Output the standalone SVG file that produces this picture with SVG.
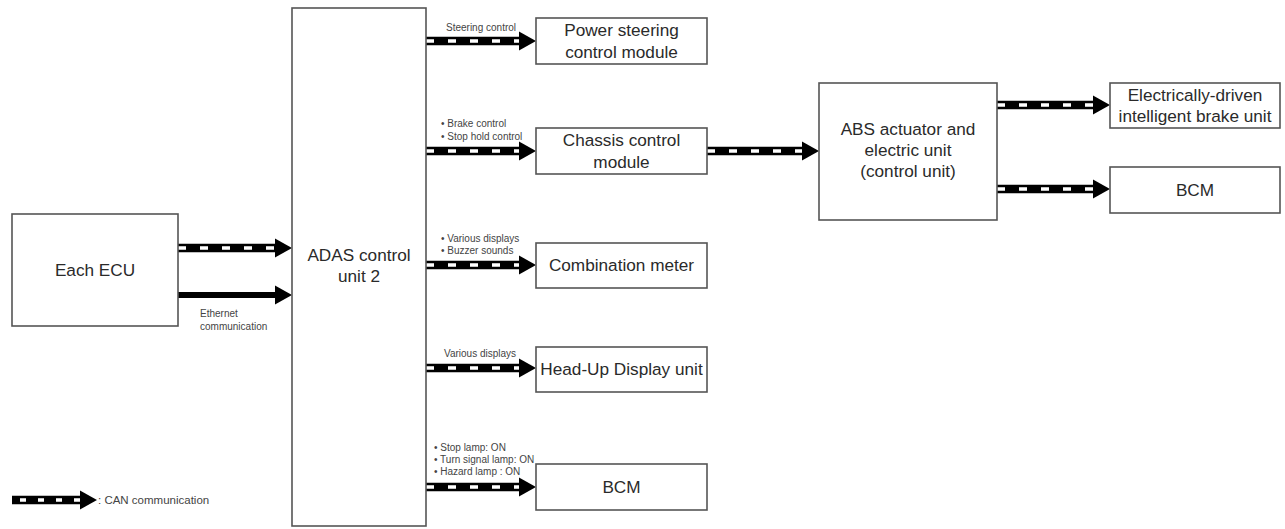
<svg xmlns="http://www.w3.org/2000/svg" width="1285" height="529" viewBox="0 0 1285 529">
<defs>
<style>
.box{fill:#fff;stroke:#555;stroke-width:1.6}
.t{font-family:"Liberation Sans",Arial,sans-serif;font-size:17.2px;fill:#2a2a2a;text-anchor:middle}
.s{font-family:"Liberation Sans",Arial,sans-serif;font-size:10px;fill:#444}
.l{font-family:"Liberation Sans",Arial,sans-serif;font-size:11.5px;fill:#444}
.bar{stroke:#000;stroke-width:8.5;fill:none}
.dash{stroke:#fff;stroke-width:3.5;stroke-dasharray:8 14;fill:none}
.eth{stroke:#000;stroke-width:6;fill:none}
.head{fill:#000}
</style>
</defs>
<rect width="1285" height="529" fill="#fff"/>

<g id="connectors">
  <g class="can"><line class="bar" x1="178" y1="248" x2="276" y2="248"/><line class="dash" x1="178" y1="248" x2="276" y2="248"/><polygon class="head" points="275,238.5 292,248 275,257.5"/></g>
  <g class="ethernet"><line class="eth" x1="178" y1="295" x2="276" y2="295"/><polygon class="head" points="275,285.5 292,295 275,304.5"/></g>
  <g class="can"><line class="bar" x1="426" y1="41" x2="520" y2="41"/><line class="dash" x1="426" y1="41" x2="520" y2="41"/><polygon class="head" points="519,31.5 536,41 519,50.5"/></g>
  <g class="can"><line class="bar" x1="426" y1="151" x2="520" y2="151"/><line class="dash" x1="426" y1="151" x2="520" y2="151"/><polygon class="head" points="519,141.5 536,151 519,160.5"/></g>
  <g class="can"><line class="bar" x1="426" y1="265" x2="520" y2="265"/><line class="dash" x1="426" y1="265" x2="520" y2="265"/><polygon class="head" points="519,255.5 536,265 519,274.5"/></g>
  <g class="can"><line class="bar" x1="426" y1="368" x2="520" y2="368"/><line class="dash" x1="426" y1="368" x2="520" y2="368"/><polygon class="head" points="519,358.5 536,368 519,377.5"/></g>
  <g class="can"><line class="bar" x1="426" y1="487" x2="520" y2="487"/><line class="dash" x1="426" y1="487" x2="520" y2="487"/><polygon class="head" points="519,477.5 536,487 519,496.5"/></g>
  <g class="can"><line class="bar" x1="707" y1="151" x2="803" y2="151"/><line class="dash" x1="707" y1="151" x2="803" y2="151"/><polygon class="head" points="802,141.5 819,151 802,160.5"/></g>
  <g class="can"><line class="bar" x1="997" y1="105" x2="1094" y2="105"/><line class="dash" x1="997" y1="105" x2="1094" y2="105"/><polygon class="head" points="1093,95.5 1110,105 1093,114.5"/></g>
  <g class="can"><line class="bar" x1="997" y1="189" x2="1094" y2="189"/><line class="dash" x1="997" y1="189" x2="1094" y2="189"/><polygon class="head" points="1093,179.5 1110,189 1093,198.5"/></g>
</g>

<g id="labels">
  <text class="s" x="200" y="317">Ethernet</text>
  <text class="s" x="200" y="330">communication</text>
  <text class="s" x="446" y="31">Steering control</text>
  <text class="s" x="441" y="127">• Brake control</text>
  <text class="s" x="441" y="140">• Stop hold control</text>
  <text class="s" x="441" y="242">• Various displays</text>
  <text class="s" x="441" y="254">• Buzzer sounds</text>
  <text class="s" x="444" y="357">Various displays</text>
  <text class="s" x="434" y="451">• Stop lamp: ON</text>
  <text class="s" x="434" y="463">• Turn signal lamp: ON</text>
  <text class="s" x="434" y="475">• Hazard lamp : ON</text>
</g>

<g id="each-ecu"><rect class="box" x="12" y="214" width="166" height="112"/><text class="t" x="95" y="276">Each ECU</text></g>
<g id="adas"><rect class="box" x="292" y="8" width="134" height="518"/><text class="t" x="359" y="261">ADAS control</text><text class="t" x="359" y="282">unit 2</text></g>
<g id="power-steering"><rect class="box" x="536" y="18" width="171" height="46"/><text class="t" x="621.5" y="36">Power steering</text><text class="t" x="621.5" y="58">control module</text></g>
<g id="chassis"><rect class="box" x="536" y="128" width="171" height="46"/><text class="t" x="621.5" y="146">Chassis control</text><text class="t" x="621.5" y="168">module</text></g>
<g id="combination-meter"><rect class="box" x="536" y="243" width="171" height="45"/><text class="t" x="621.5" y="271">Combination meter</text></g>
<g id="hud"><rect class="box" x="536" y="347" width="171" height="45"/><text class="t" x="621.5" y="375">Head-Up Display unit</text></g>
<g id="bcm1"><rect class="box" x="536" y="464" width="171" height="46"/><text class="t" x="621.5" y="493">BCM</text></g>
<g id="abs"><rect class="box" x="819" y="83" width="178" height="137"/><text class="t" x="908" y="135">ABS actuator and</text><text class="t" x="908" y="156">electric unit</text><text class="t" x="908" y="177">(control unit)</text></g>
<g id="brake-unit"><rect class="box" x="1110" y="83" width="170" height="45"/><text class="t" x="1195" y="101">Electrically-driven</text><text class="t" x="1195" y="122">intelligent brake unit</text></g>
<g id="bcm2"><rect class="box" x="1110" y="167" width="170" height="46"/><text class="t" x="1195" y="196">BCM</text></g>

<g id="legend">
  <line class="bar" x1="12" y1="500" x2="81" y2="500"/><line class="dash" x1="12" y1="500" x2="81" y2="500" style="stroke-dasharray:6 12;stroke-dashoffset:-8"/>
  <polygon class="head" points="80,490.5 97,500 80,509.5"/>
  <text class="l" x="98" y="504">: CAN communication</text>
</g>
</svg>
